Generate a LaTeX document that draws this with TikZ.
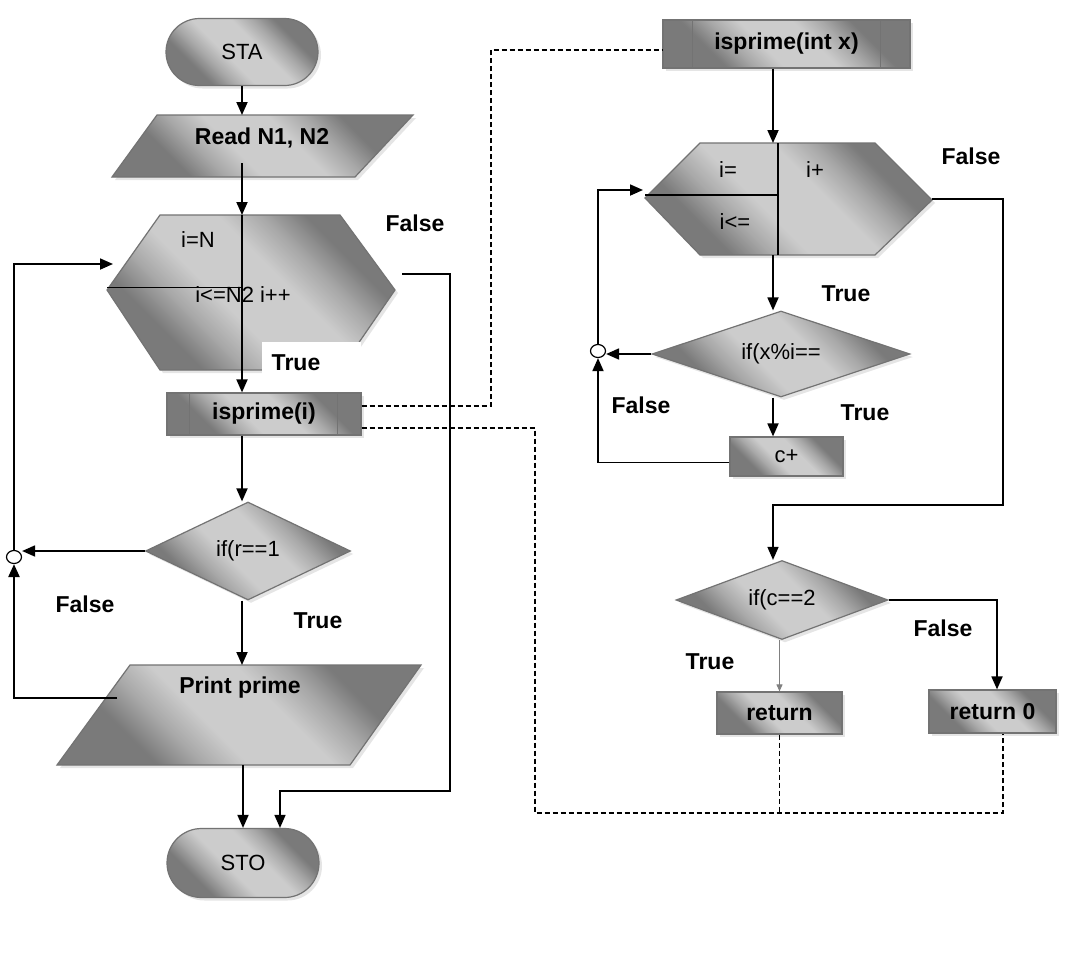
\documentclass[tikz,border=0pt]{standalone}
\usepackage{fontspec}
\setmainfont{Liberation Sans}
\usetikzlibrary{shapes.geometric,shapes.misc,arrows.meta,shadows,calc}
\definecolor{mdark}{gray}{0.48}
\definecolor{mmid}{gray}{0.66}
\definecolor{mlight}{gray}{0.80}
\pgfdeclarehorizontalshading{metalsh}{100bp}{color(0bp)=(mdark); color(30bp)=(mdark); color(37bp)=(mmid); color(44bp)=(mlight); color(57bp)=(mlight); color(64bp)=(mmid); color(71bp)=(mdark); color(100bp)=(mdark)}
\begin{document}
\begin{tikzpicture}[x=1pt,y=-1pt,
  shp/.style={draw=black!55, line width=1.2pt, shading=metalsh, shading angle=45, drop shadow={shadow xshift=3pt, shadow yshift=-3pt, opacity=0.2}},
  box0/.style={inner sep=0pt, outer sep=0pt},
  tx/.style={font=\fontsize{22}{26}\selectfont, inner sep=0pt},
  bx/.style={font=\bfseries\fontsize{23}{27}\selectfont, inner sep=0pt},
  arr/.style={line width=1.8pt, -{Triangle[length=13pt,width=11pt]}},
  ln/.style={line width=1.5pt},
  dsh/.style={line width=1.5pt, dash pattern=on 5pt off 3pt},
  junc/.style={ellipse, draw, fill=white, line width=1.2pt, minimum width=15pt, minimum height=13pt, inner sep=0pt},
  inl/.style={line width=1.2pt, black!55}
]
\fill[white] (0,0) rectangle (1080,954);
\useasboundingbox (0,0) rectangle (1080,954);

% ---------- left column shapes ----------
\node[shp, rounded rectangle, minimum width=152pt, minimum height=67pt, tx] (sta) at (242,52) {STA};

\path[shp] (157,115) -- (413,115) -- (355,177) -- (112,177) -- cycle;
\node[box0, minimum width=301pt, minimum height=62pt] (read) at (262.5,146) {};
\node[bx] (readt) at (262,138) {Read N1, N2};

\path[shp] (160,215) -- (340,215) -- (395,290) -- (340,370) -- (160,370) -- (107,290) -- cycle;
\node[box0, minimum width=288pt, minimum height=155pt] (hexa) at (251,292.5) {};
\draw[ln] ([yshift=5pt]hexa.west) -- ++(134,0);
\node[tx] (ta1) at (198,240) {i=N};
\node[tx] (ta2) at (243,295) {i<=N2 i++};

\node[fill=white, box0, minimum width=99pt, minimum height=50pt] (tbox) at (311.5,367) {};
\node[bx] (t1) at (296,363) {True};

\node[shp, rectangle, minimum width=194pt, minimum height=42pt, bx] (ispi) at (264,414) {isprime(i)};
\draw[inl] ([xshift=23pt]ispi.north west) -- ([xshift=23pt]ispi.south west)
           ([xshift=-24pt]ispi.north east) -- ([xshift=-24pt]ispi.south east);

\node[shp, diamond, aspect=2, minimum width=205pt, minimum height=98pt, tx] (dr) at (248,551) {if(r==1};
\node[junc] (j1) at (14,557) {};

\path[shp] (130,665) -- (421,665) -- (350,765) -- (57,765) -- cycle;
\node[box0, minimum width=364pt, minimum height=100pt] (pp) at (239,715) {};
\node[bx] (ppt) at (240,688) {Print prime};

\node[shp, rounded rectangle, minimum width=152pt, minimum height=69pt, tx] (sto) at (243,863) {STO};

% ---------- right column shapes ----------
\node[shp, rectangle, minimum width=247pt, minimum height=48pt, bx] (ispx) at (786.5,44) {isprime(int x)};
\draw[inl] ([xshift=30pt]ispx.north west) -- ([xshift=30pt]ispx.south west)
           ([xshift=-30pt]ispx.north east) -- ([xshift=-30pt]ispx.south east);

\path[shp] (700,143) -- (875,143) -- (932,200) -- (875,255) -- (700,255) -- (645,198) -- cycle;
\node[box0, minimum width=287pt, minimum height=112pt] (hexb) at (788.5,199) {};
\draw[ln] ([xshift=-10.5pt]hexb.north) -- ([xshift=-10.5pt]hexb.south);
\draw[ln] ([yshift=4pt]hexb.west) -- ++(133,0);
\node[tx] (tb1) at (728,170) {i=};
\node[tx] (tb2) at (815,170) {i+};
\node[tx] (tb3) at (735,222) {i<=};

\node[shp, diamond, aspect=3, minimum width=258pt, minimum height=86pt, tx] (dx) at (781,354) {if(x\%i==};
\node[junc] (j2) at (598,351) {};
\node[shp, rectangle, minimum width=113pt, minimum height=39pt, tx] (cp) at (786.5,456.5) {c+};

\node[shp, diamond, aspect=3, minimum width=212pt, minimum height=79pt, tx] (dc) at (782,600) {if(c==2};
\node[shp, rectangle, minimum width=125pt, minimum height=42pt, bx] (ret) at (779.5,713) {return};
\node[shp, rectangle, minimum width=127pt, minimum height=43pt, bx] (ret0) at (992.5,711.5) {return 0};

% ---------- helper coordinates ----------
\coordinate (rd) at ([yshift=14pt]read.south);
\coordinate (s2) at (773,0);
\coordinate (h1in) at (113,264);
\coordinate (hf) at (402,274);
\coordinate (fr) at (450,791);
\coordinate (pl) at (117,698);
\coordinate (dv1) at (491,0);
\coordinate (dbot) at (535,813);
\coordinate (h2in) at (643,190);
\coordinate (fr2) at (1003,505);
\coordinate (ispxw) at ([yshift=-6pt]ispx.west);

% ---------- left connectors ----------
\draw[arr] (sta.south) -- (sta.south |- read.north);
\draw[arr] (rd -| sta.south) -- (sta.south |- hexa.north);
\draw[arr] (sta.south |- hexa.north) -- (sta.south |- ispi.north);
\draw[arr] (sta.south |- ispi.south) -- (sta.south |- dr.north);
\draw[arr] (sta.south |- dr.south) -- (sta.south |- pp.north);
\draw[arr] (pp.south -| sto.north) -- (sto.north);
\draw[arr] (dr.west) -- (dr.west -| j1.east);
\draw[arr] (j1.north) |- (h1in);
\draw[arr, line width=2.4pt] (pl) -| (j1.south);
\draw[ln, -{Triangle[length=13pt,width=11pt]}] (hf) -| (fr) -| ([xshift=37pt]sto.north);

% ---------- dashed calls ----------
\draw[dsh] ([yshift=8pt]ispi.east) -| (dv1 |- ispxw) -- (ispxw);
\draw[dsh] ([yshift=-14pt]ispi.east) -| (dbot) -| ([xshift=10.5pt]ret0.south);
\draw[dsh] (ret.south) -- (ret.south |- dbot);

% ---------- right connectors ----------
\draw[arr] (ispx.south -| s2) -- (hexb.north -| s2);
\draw[arr] (hexb.south -| s2) -- (dx.north -| s2);
\draw[arr] (dx.west) -- (dx.west -| j2.east);
\draw[arr] (j2.north) |- (h2in);
\draw[arr] (dx.south -| s2) -- (cp.north -| s2);
\draw[arr] ([yshift=-6pt]cp.west) -| (j2.south);
\draw[ln, -{Triangle[length=13pt,width=11pt]}] (hexb.east) -| (fr2) -| (dc.north -| s2);
\draw[arr] (dc.east) -| ([xshift=4.5pt]ret0.north);
\draw[gray, line width=1pt, -{Triangle[length=7pt,width=6pt]}] (dc.south -| ret.north) -- (ret.north);

% ---------- labels ----------
\node[bx] (lf1) at (415,223) {False};
\node[bx] (lt2) at (318,621) {True};
\node[bx] (lf2) at (85,604) {False};
\node[bx] (lf3) at (971,156) {False};
\node[bx] (lt3) at (846,294) {True};
\node[bx] (lf4) at (641,405) {False};
\node[bx] (lt4) at (865,413) {True};
\node[bx] (lf5) at (943,628) {False};
\node[bx] (lt5) at (710,662) {True};
\end{tikzpicture}
\end{document}
